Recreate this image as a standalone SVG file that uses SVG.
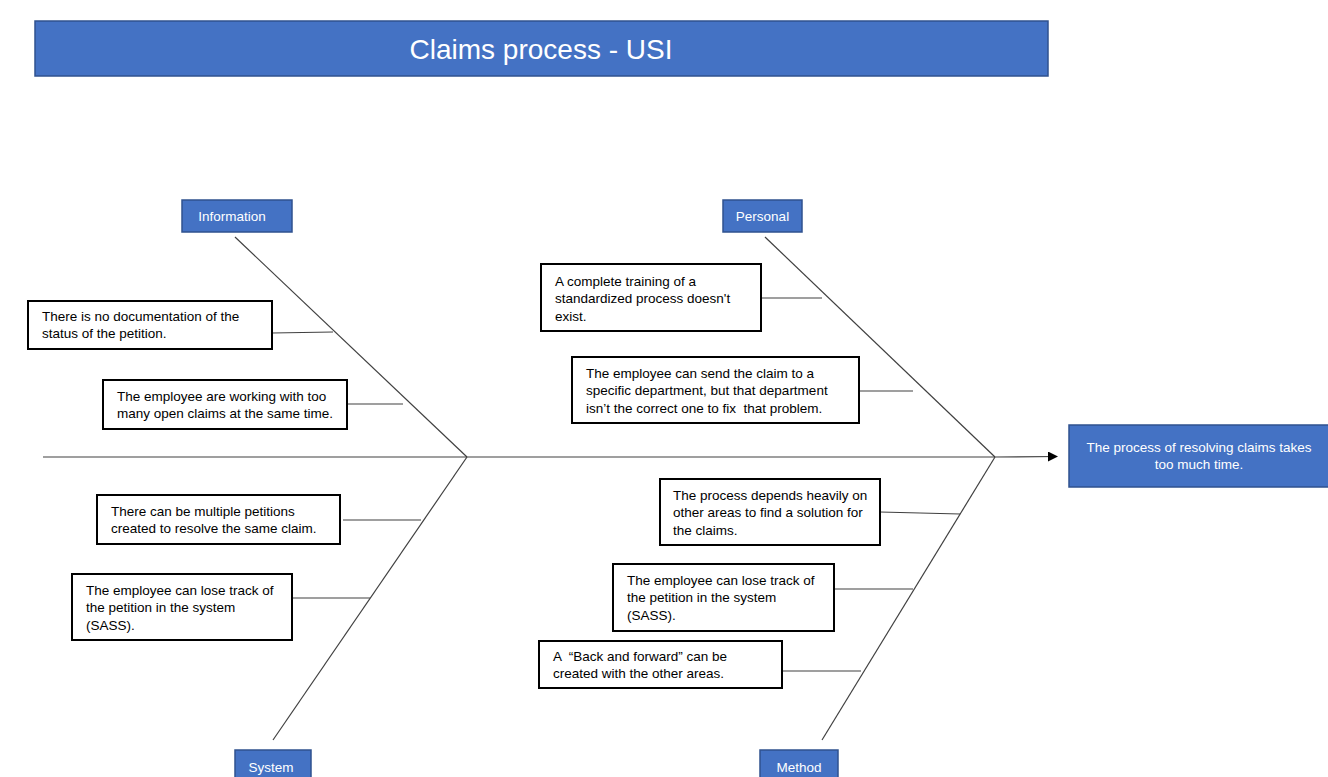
<svg xmlns="http://www.w3.org/2000/svg" width="1328" height="777" viewBox="0 0 1328 777">
<defs>
<style>
.blue{fill:#4472C4;stroke:#2F528F;stroke-width:1.5}
.wt{fill:#ffffff;font-family:"Liberation Sans",Arial,sans-serif;font-size:13.5px;white-space:pre}
.box{fill:#ffffff;stroke:#000000;stroke-width:2}
.bt{fill:#000000;font-family:"Liberation Sans",Arial,sans-serif;font-size:13.5px;white-space:pre}
.ln{stroke:#404040;stroke-width:1.2;fill:none}
</style>
<marker id="arr" viewBox="0 0 10 10" refX="9" refY="5" markerWidth="10" markerHeight="10" markerUnits="userSpaceOnUse" orient="auto">
<path d="M0,0 L10,5 L0,10 Z" fill="#000000"/>
</marker>
</defs>
<rect width="1328" height="777" fill="#ffffff"/>
<g id="title">
<rect class="blue" x="35" y="21" width="1013" height="55"/>
<text x="541" y="59" text-anchor="middle" fill="#ffffff" font-family="Liberation Sans,Arial,sans-serif" font-size="28">Claims process - USI</text>
</g>
<g id="connectors">
<line class="ln" x1="43" y1="457" x2="995" y2="457"/>
<line class="ln" x1="995" y1="457" x2="1057" y2="456.5" marker-end="url(#arr)"/>
<line class="ln" x1="235" y1="237" x2="467" y2="457"/>
<line class="ln" x1="273" y1="740" x2="467" y2="457"/>
<line class="ln" x1="765" y1="237" x2="995" y2="457"/>
<line class="ln" x1="822" y1="740" x2="995" y2="457"/>
<line class="ln" x1="272" y1="333" x2="333" y2="332"/>
<line class="ln" x1="347" y1="404" x2="403" y2="404"/>
<line class="ln" x1="343" y1="520" x2="421" y2="520"/>
<line class="ln" x1="292" y1="598" x2="370" y2="598"/>
<line class="ln" x1="761" y1="298" x2="822" y2="298"/>
<line class="ln" x1="859" y1="391" x2="913" y2="391"/>
<line class="ln" x1="880" y1="512" x2="960" y2="514"/>
<line class="ln" x1="834" y1="589" x2="913" y2="589"/>
<line class="ln" x1="782" y1="671" x2="861" y2="671"/>
</g>
<g id="information">
<rect class="blue" x="182" y="200" width="110" height="32"/>
<text class="wt" x="232" y="221" text-anchor="middle">Information</text>
</g>
<g id="personal">
<rect class="blue" x="723" y="200" width="79" height="32"/>
<text class="wt" x="762.5" y="221" text-anchor="middle">Personal</text>
</g>
<g id="system">
<rect class="blue" x="235" y="750" width="76" height="32"/>
<text class="wt" x="271" y="772" text-anchor="middle">System</text>
</g>
<g id="method">
<rect class="blue" x="760" y="750" width="78" height="32"/>
<text class="wt" x="799" y="772" text-anchor="middle">Method</text>
</g>
<g id="effect">
<rect class="blue" x="1069" y="425" width="262" height="62"/>
<text class="wt" x="1199" y="452" text-anchor="middle">The process of resolving claims takes</text>
<text class="wt" x="1199" y="469" text-anchor="middle">too much time.</text>
</g>
<g id="cause1">
<rect class="box" x="28" y="301" width="244" height="48"/>
<text class="bt" x="42" y="321">There is no documentation of the</text>
<text class="bt" x="42" y="338">status of the petition.</text>
</g>
<g id="cause2">
<rect class="box" x="103" y="380" width="244" height="49"/>
<text class="bt" x="117" y="401">The employee are working with too</text>
<text class="bt" x="117" y="418">many open claims at the same time.</text>
</g>
<g id="cause3">
<rect class="box" x="97" y="495" width="243" height="49"/>
<text class="bt" x="111" y="516">There can be multiple petitions</text>
<text class="bt" x="111" y="533">created to resolve the same claim.</text>
</g>
<g id="cause4">
<rect class="box" x="72" y="574" width="220" height="66"/>
<text class="bt" x="86" y="595">The employee can lose track of</text>
<text class="bt" x="86" y="612">the petition in the system</text>
<text class="bt" x="86" y="630">(SASS).</text>
</g>
<g id="cause5">
<rect class="box" x="541" y="264" width="220" height="67"/>
<text class="bt" x="555" y="286">A complete training of a</text>
<text class="bt" x="555" y="303">standardized process doesn't</text>
<text class="bt" x="555" y="321">exist.</text>
</g>
<g id="cause6">
<rect class="box" x="572" y="357" width="287" height="66"/>
<text class="bt" x="586" y="378">The employee can send the claim to a</text>
<text class="bt" x="586" y="395">specific department, but that department</text>
<text class="bt" x="586" y="413">isn’t the correct one to fix  that problem.</text>
</g>
<g id="cause7">
<rect class="box" x="660" y="479" width="220" height="66"/>
<text class="bt" x="673" y="500">The process depends heavily on</text>
<text class="bt" x="673" y="517">other areas to find a solution for</text>
<text class="bt" x="673" y="535">the claims.</text>
</g>
<g id="cause8">
<rect class="box" x="613" y="564" width="221" height="67"/>
<text class="bt" x="627" y="585">The employee can lose track of</text>
<text class="bt" x="627" y="602">the petition in the system</text>
<text class="bt" x="627" y="620">(SASS).</text>
</g>
<g id="cause9">
<rect class="box" x="539" y="641" width="243" height="47"/>
<text class="bt" x="553" y="661">A  “Back and forward” can be</text>
<text class="bt" x="553" y="678">created with the other areas.</text>
</g>
</svg>
